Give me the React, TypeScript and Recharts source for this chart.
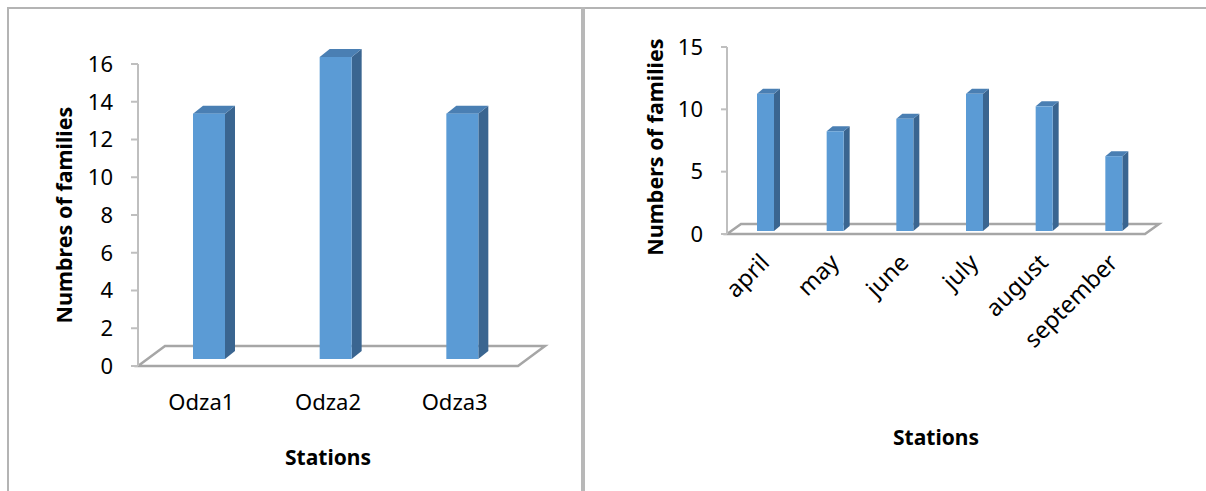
import * as React from 'react';
import { BarChart, Bar, XAxis, YAxis, ReferenceLine } from 'recharts';

const stations = ['Odza1', 'Odza2', 'Odza3'];
const stationFamilies = [13, 16, 13];
const stationTicks = [0, 2, 4, 6, 8, 10, 12, 14, 16];

const months = ['april', 'may', 'june', 'july', 'august', 'september'];
const monthFamilies = [11, 8, 9, 11, 10, 6];
const monthTicks = [0, 5, 10, 15];

const FONT = '"Noto Sans", "Open Sans", sans-serif';
const FRONT = '#5b9bd5';
const SIDE = '#3a6590';
const TOP = '#4a7fb3';
const FLOOR = '#a6a6a6';

const stationData = stations.map((name, i) => ({ name, value: stationFamilies[i] }));
const monthData = months.map((name, i) => ({ name, value: monthFamilies[i] }));

// 3d column like Excel: front face, dark side, top
const make3dBar = (shift: number, lift: number, depth: number, rise: number) => (props: any) => {
  const { x, y, width, height } = props;
  if (height == null || width == null) return null;
  const x0 = x + shift;
  const y0 = y - lift;
  const x1 = x0 + width;
  const yb = y0 + height;
  return (
    <g>
      <polygon
        points={`${x1},${y0} ${x1 + depth},${y0 - rise} ${x1 + depth},${yb - rise} ${x1},${yb}`}
        fill={SIDE}
      />
      <polygon
        points={`${x0},${y0} ${x0 + depth},${y0 - rise} ${x1 + depth},${y0 - rise} ${x1},${y0}`}
        fill={TOP}
      />
      <rect x={x0} y={y0} width={width} height={height} fill={FRONT} />
    </g>
  );
};

const makeFloor = (dx: number, dy: number) => (props: any) => {
  const { x1, y1, x2 } = props;
  if (x1 == null) return null;
  return (
    <polygon
      points={`${x1},${y1} ${x1 + dx},${y1 - dy} ${x2 + dx},${y1 - dy} ${x2},${y1}`}
      fill="#ffffff"
      stroke={FLOOR}
      strokeWidth={2.5}
      strokeLinejoin="miter"
    />
  );
};

const RotatedTick = (props: any) => {
  const { x, y, payload } = props;
  const ax = x + 9;
  const ay = y;
  return (
    <text
      x={ax}
      y={ay}
      transform={`rotate(-45 ${ax} ${ay})`}
      textAnchor="end"
      fontFamily={FONT}
      fontSize={23.5}
      fill="#000"
    >
      {payload.value}
    </text>
  );
};

const title = (x: number, y: number, text: string, vertical: boolean, size = 21) => () => (
  <text
    x={x}
    y={y}
    textAnchor="middle"
    dominantBaseline="central"
    transform={vertical ? `rotate(-90 ${x} ${y})` : undefined}
    fontFamily={FONT}
    fontSize={size}
    fontWeight="bold"
    fill="#000"
  >
    {text}
  </text>
);

export default function App() {
  return (
    <div style={{ position: 'relative', width: 1206, height: 491, overflow: 'hidden', background: '#fff' }}>
      <style>{'body{margin:0;background:#fff}'}</style>
      {/* frames */}
      <div style={{ position: 'absolute', left: 7, top: 7, width: 1210, height: 0, borderTop: '2px solid #b4b4b4' }} />
      <div style={{ position: 'absolute', left: 7, top: 7, width: 0, height: 500, borderLeft: '2px solid #b4b4b4' }} />
      <div style={{ position: 'absolute', left: 581, top: 7, width: 4, height: 500, background: '#b8b8b8' }} />

      <div style={{ position: 'absolute', left: 0, top: 0 }}>
        <BarChart
          width={580}
          height={491}
          data={stationData}
          margin={{ top: 64, right: 62, left: 58, bottom: 85 }}
          barSize={32}
        >
          <YAxis
            width={80}
            domain={[0, 16]}
            ticks={stationTicks}
            interval={0}
            axisLine={{ stroke: '#bfbfbf', strokeWidth: 2 }}
            tickLine={{ stroke: '#bfbfbf', strokeWidth: 2 }}
            tickSize={7}
            tickMargin={18}
            tick={{ fill: '#000', fontSize: 22, fontFamily: FONT }}
            label={title(63, 215, 'Numbres of families', true, 21.5)}
          />
          <XAxis
            dataKey="name"
            height={40}
            axisLine={false}
            tickLine={false}
            tickSize={0}
            tickMargin={28}
            tick={{ fill: '#000', fontSize: 22, fontFamily: FONT }}
            label={title(328, 457, 'Stations', false)}
          />
          <ReferenceLine y={0} shape={makeFloor(27, 20)} zIndex={-10} />
          <Bar dataKey="value" isAnimationActive={false} shape={make3dBar(8, 7, 10, 8)} />
        </BarChart>
      </div>

      <div style={{ position: 'absolute', left: 585, top: 0 }}>
        <BarChart
          width={621}
          height={491}
          data={monthData}
          margin={{ top: 47, right: 61, left: 62, bottom: 127 }}
          barSize={17}
        >
          <YAxis
            width={80}
            domain={[0, 15]}
            ticks={monthTicks}
            interval={0}
            axisLine={{ stroke: '#bfbfbf', strokeWidth: 2 }}
            tickLine={{ stroke: '#bfbfbf', strokeWidth: 2 }}
            tickSize={6}
            tickMargin={18}
            tick={{ fill: '#000', fontSize: 22, fontFamily: FONT }}
            label={title(69, 147, 'Numbers of families', true, 21.5)}
          />
          <XAxis
            dataKey="name"
            height={130}
            interval={0}
            axisLine={false}
            tickLine={false}
            tickSize={0}
            tickMargin={30}
            tick={<RotatedTick />}
            label={title(351, 437, 'Stations', false)}
          />
          <ReferenceLine y={0} shape={makeFloor(14, 10)} zIndex={-10} />
          <Bar dataKey="value" isAnimationActive={false} shape={make3dBar(4, 3, 6, 5)} />
        </BarChart>
      </div>
    </div>
  );
}
